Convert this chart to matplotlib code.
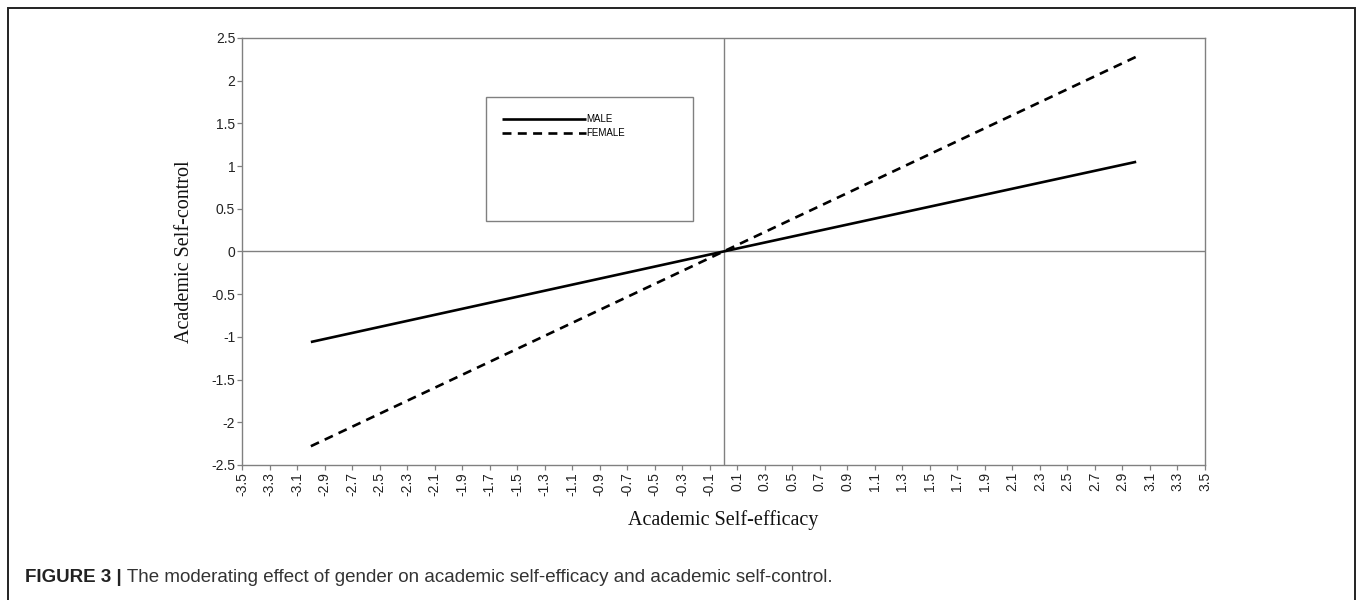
import matplotlib
matplotlib.use("Agg")
import matplotlib.pyplot as plt
from matplotlib.patches import Rectangle
import numpy as np

# simple slopes at -3 SD, mean and +3 SD of self-efficacy
efficacy = [-3.0, 0.0, 3.0]
male = [-1.06, 0.0, 1.05]
female = [-2.28, 0.0, 2.28]
series_labels = ["MALE", "FEMALE"]

x_ticks = np.round(np.arange(-3.5, 3.51, 0.2), 1)
y_ticks = [-2.5, -2, -1.5, -1, -0.5, 0, 0.5, 1, 1.5, 2, 2.5]

caption_bold = "FIGURE 3 |"
caption_text = " The moderating effect of gender on academic self-efficacy and academic self-control."

GRAY = "#808080"
SANS = "Liberation Sans"
SERIF = "Liberation Serif"

fig = plt.figure(figsize=(13.6, 6), dpi=100)
ax = fig.add_axes([0.178, 0.225, 0.708, 0.7117])

# outer page frame
fig.patches.append(Rectangle((8 / 1360, -0.02), (1355 - 8) / 1360, 1 - 8 / 600 + 0.02,
                             transform=fig.transFigure, fill=False,
                             edgecolor="#222222", linewidth=1.4))

l_male, = ax.plot(efficacy, male, color="black", linewidth=1.9, solid_capstyle="butt")
l_female, = ax.plot(efficacy, female, color="black", linewidth=1.9,
                    linestyle=(0, (3.4, 2.4)))

ax.axhline(0, color=GRAY, linewidth=1.0, zorder=1)
ax.axvline(0, color=GRAY, linewidth=1.0, zorder=1)

ax.set_xlim(-3.5, 3.5)
ax.set_ylim(-2.5, 2.5)
ax.set_xticks(x_ticks)
ax.set_xticklabels([f"{v:g}" for v in x_ticks], rotation=90, family=SANS, fontsize=10, color="#222222")
ax.set_yticks(y_ticks)
ax.set_yticklabels([f"{v:g}" for v in y_ticks], family=SANS, fontsize=10, color="#222222")
ax.tick_params(direction="out", length=3.5, width=0.9, color=GRAY, pad=1.5)
for s in ax.spines.values():
    s.set_color(GRAY)
    s.set_linewidth(1.0)

ax.set_xlabel("Academic Self-efficacy", family=SERIF, fontsize=14.5, color="#111111", labelpad=10)
ax.set_ylabel("Academic Self-control", family=SERIF, fontsize=14.5, color="#111111", labelpad=12)

# legend box
ax.add_patch(Rectangle((0.2534, 0.572), 0.2146, 0.289, transform=ax.transAxes,
                       fill=False, edgecolor=GRAY, linewidth=1.0))
ax.legend([l_male, l_female], series_labels, loc="upper left",
          bbox_to_anchor=(0.270, 0.822), frameon=False, handlelength=8.6,
          handletextpad=0.05, labelspacing=0.45, borderaxespad=0, borderpad=0,
          prop={"family": SANS, "size": 7})

# caption
cap = fig.text(25 / 1360, 1 - 578 / 600, caption_bold, family=SANS, fontsize=13.5,
               fontweight="bold", color="#222222", va="center")
fig.canvas.draw()
ax.annotate(caption_text, xy=(1, 0.5), xycoords=cap, va="center", ha="left",
            family=SANS, fontsize=13.5, color="#333333", annotation_clip=False)

fig.savefig("out.png", dpi=100)
